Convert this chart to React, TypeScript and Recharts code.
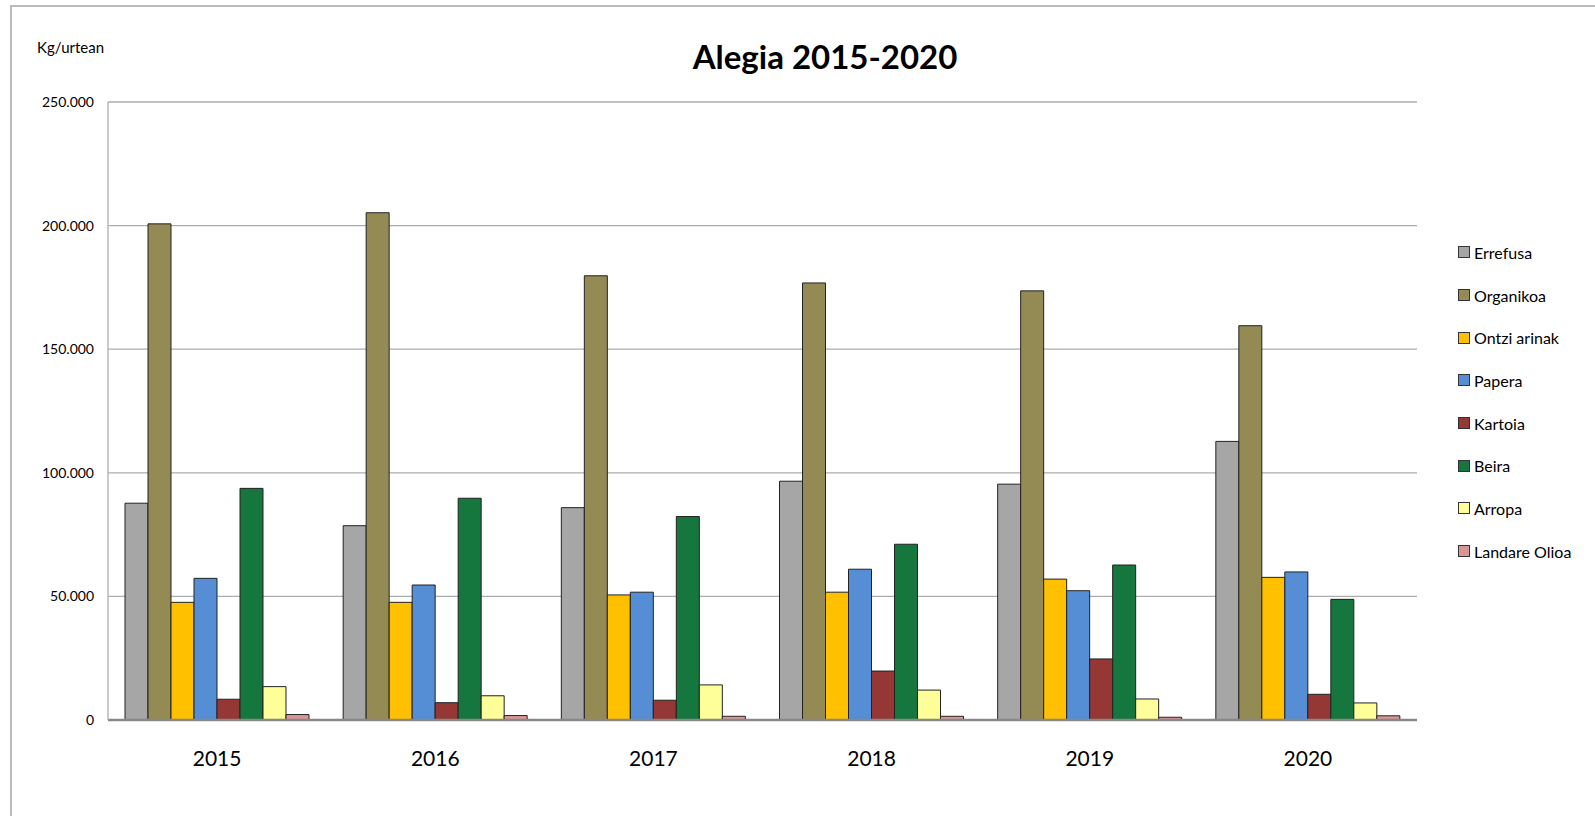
import React from 'react';
import { BarChart, Bar, XAxis, YAxis, CartesianGrid, Legend } from 'recharts';

const years = ['2015', '2016', '2017', '2018', '2019', '2020'];

const errefusa = [87700, 78600, 85900, 96600, 95400, 112700];
const organikoa = [200700, 205200, 179700, 176800, 173600, 159500];
const ontziArinak = [47600, 47600, 50600, 51700, 57000, 57700];
const papera = [57300, 54600, 51700, 61000, 52300, 59900];
const kartoia = [8400, 7000, 8000, 19800, 24700, 10400];
const beira = [93700, 89700, 82300, 71100, 62700, 48800];
const arropa = [13500, 9800, 14200, 12100, 8500, 6900];
const landareOlioa = [2200, 1800, 1500, 1500, 1100, 1700];

const yTicks = [0, 50000, 100000, 150000, 200000, 250000];

const series = [
  { key: 'Errefusa', values: errefusa, color: '#A6A6A6' },
  { key: 'Organikoa', values: organikoa, color: '#948A54' },
  { key: 'Ontzi arinak', values: ontziArinak, color: '#FFC000' },
  { key: 'Papera', values: papera, color: '#558ED5' },
  { key: 'Kartoia', values: kartoia, color: '#953735' },
  { key: 'Beira', values: beira, color: '#15773D' },
  { key: 'Arropa', values: arropa, color: '#FFFF99' },
  { key: 'Landare Olioa', values: landareOlioa, color: '#D99694' },
];

const data = years.map((year, i) => {
  const row: Record<string, string | number> = { year };
  series.forEach((s) => {
    row[s.key] = s.values[i];
  });
  return row;
});

// 250000 -> "250.000"
const fmt = (v: number) => String(v).replace(/\B(?=(\d{3})+(?!\d))/g, '.');

const FONT = 'Lato, "Liberation Sans", sans-serif';

const renderLegend = () => (
  <div style={{ fontFamily: FONT }}>
    {series.map((s) => (
      <div key={s.key} style={{ display: 'flex', alignItems: 'center', height: 42.7 }}>
        <span
          style={{
            width: 10,
            height: 10,
            background: s.color,
            border: '1px solid #333',
            marginRight: 4,
          }}
        />
        <span style={{ fontSize: 16, color: '#000' }}>{s.key}</span>
      </div>
    ))}
  </div>
);

export default function App() {
  return (
    <div
      style={{
        position: 'absolute',
        left: 0,
        top: 0,
        width: 1595,
        height: 816,
        background: '#fff',
        overflow: 'hidden',
        fontFamily: FONT,
      }}
    >
      {/* chart frame, only left and top edges visible */}
      <div
        style={{
          position: 'absolute',
          left: 10,
          top: 5,
          width: 1600,
          height: 820,
          borderLeft: '2px solid #BBBBBB',
          borderTop: '2px solid #BBBBBB',
        }}
      />
      <div style={{ position: 'absolute', left: 37, top: 38, fontSize: 15, color: '#000' }}>
        Kg/urtean
      </div>
      <div
        style={{
          position: 'absolute',
          left: 0,
          width: 1650,
          top: 36,
          textAlign: 'center',
          fontSize: 33,
          fontWeight: 700,
          color: '#000',
          lineHeight: '40px',
        }}
      >
        Alegia 2015-2020
      </div>
      <BarChart
        width={1595}
        height={816}
        data={data}
        margin={{ top: 102, right: 178, bottom: 0, left: 0 }}
        barCategoryGap={17}
        barGap={0}
      >
        <CartesianGrid horizontal vertical={false} stroke="#ADADAD" strokeWidth={1.3} />
        <XAxis
          dataKey="year"
          height={96}
          tickLine={false}
          tickSize={0}
          tickMargin={31}
          axisLine={{ stroke: '#888888', strokeWidth: 2.5 }}
          tick={{ fill: '#000', fontSize: 21, fontFamily: FONT }}
        />
        <YAxis
          width={108}
          domain={[0, 250000]}
          ticks={yTicks}
          tickFormatter={fmt}
          tickLine={false}
          tickSize={0}
          tickMargin={14}
          axisLine={{ stroke: '#ADADAD', strokeWidth: 1.3 }}
          tick={{ fill: '#000', fontSize: 14, fontFamily: FONT }}
        />
        <Legend
          layout="vertical"
          align="center"
          verticalAlign="middle"
          wrapperStyle={{ left: 1458, top: 231, width: 140 }}
          content={renderLegend}
        />
        {series.map((s) => (
          <Bar
            key={s.key}
            dataKey={s.key}
            fill={s.color}
            stroke="#222"
            strokeWidth={1}
            isAnimationActive={false}
          />
        ))}
      </BarChart>
    </div>
  );
}
